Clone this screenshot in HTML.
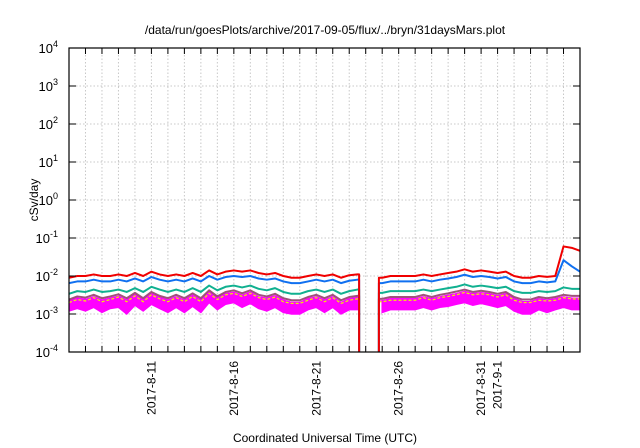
<!DOCTYPE html>
<html><head><meta charset="utf-8"><style>
body{margin:0;background:#fff}
svg{display:block;font-family:"Liberation Sans",sans-serif}
</style></head><body>
<svg id="chart" width="640" height="448">
<text x="325" y="34" font-size="12" text-anchor="middle">/data/run/goesPlots/archive/2017-09-05/flux/../bryn/31daysMars.plot</text>
<g id="grid"></g>
<g id="series" clip-path="url(#clip)"></g>
<rect x="69" y="48" width="511" height="304" fill="none" stroke="#000" stroke-width="1.2"/>
<g id="axes"></g>
<text transform="translate(38,200) rotate(-90)" font-size="12" text-anchor="middle">cSv/day</text>
<text x="325" y="442" font-size="12" text-anchor="middle">Coordinated Universal Time (UTC)</text>
<defs><clipPath id="clip"><rect x="69" y="48" width="511" height="304"/></clipPath></defs>
</svg>
<script>
// time in days since 2017-08-06 00:00, sampled every half day
const decades = [-4,-3,-2,-1,0,1,2,3,4];
const dateLabels = ["2017-8-11","2017-8-16","2017-8-21","2017-8-26","2017-8-31","2017-9-1"];
const dateLabelDays = [5,10,15,20,25,26];
const gapStart = 17.6, gapEnd = 18.8;
const red = [0.9,1.0,1.0,1.1,1.0,1.0,1.1,1.0,1.2,1.0,1.3,1.1,1.0,1.1,1.0,1.2,1.0,1.4,1.1,1.3,1.4,1.3,1.4,1.2,1.1,1.2,1.0,0.9,0.9,1.0,1.1,1.0,1.1,0.9,1.05,1.1,null,null,0.9,1.0,1.0,1.0,1.0,1.1,1.0,1.1,1.2,1.3,1.5,1.3,1.4,1.3,1.2,1.3,1.0,0.9,0.9,1.0,0.95,1.0,6.0,5.5,4.6]; // x1e-2
const blue = [0.65,0.72,0.72,0.8,0.72,0.72,0.8,0.72,0.86,0.72,0.94,0.8,0.72,0.8,0.72,0.86,0.72,1.0,0.8,0.94,1.0,0.94,1.0,0.86,0.8,0.86,0.72,0.65,0.65,0.72,0.8,0.72,0.8,0.65,0.75,0.8,null,null,0.65,0.72,0.72,0.72,0.72,0.8,0.72,0.8,0.86,0.94,1.08,0.94,1.0,0.94,0.86,0.94,0.72,0.65,0.65,0.72,0.68,0.72,2.6,1.8,1.3]; // x1e-2
const teal = [3.4,4.0,3.8,4.4,3.8,4.0,4.4,3.8,4.8,3.8,5.2,4.4,3.8,4.4,3.8,4.8,3.8,5.6,4.2,5.2,5.6,5.0,5.6,4.6,4.2,4.8,3.8,3.4,3.4,4.0,4.4,3.8,4.4,3.4,4.0,4.4,null,null,3.6,4.0,4.0,4.0,4.0,4.4,4.0,4.4,4.8,5.2,6.0,5.2,5.6,5.2,4.8,5.2,4.0,3.6,3.6,4.0,3.8,4.0,5.0,4.6,4.6]; // x1e-3
const brown = [2.4,2.9,2.7,3.2,2.6,2.9,3.3,2.6,3.6,2.6,3.8,3.0,2.6,3.2,2.6,3.5,2.6,4.2,2.9,3.8,4.2,3.5,4.2,3.2,2.9,3.4,2.6,2.3,2.3,2.8,3.2,2.6,3.2,2.3,2.8,3.0,null,null,2.5,2.8,2.8,2.8,2.8,3.2,2.8,3.2,3.5,3.9,4.4,3.8,4.1,3.8,3.4,3.8,2.8,2.4,2.4,2.8,2.6,2.8,3.2,3.0,3.0]; // x1e-3
const yellow = [2.0,2.4,2.2,2.7,2.1,2.4,2.8,2.1,3.0,2.1,3.2,2.5,2.1,2.7,2.1,2.9,2.1,3.5,2.4,3.2,3.5,2.9,3.5,2.7,2.4,2.8,2.1,1.9,1.9,2.3,2.7,2.1,2.7,1.9,2.3,2.5,null,null,2.1,2.3,2.3,2.3,2.3,2.7,2.3,2.7,2.9,3.2,3.7,3.2,3.4,3.2,2.8,3.2,2.3,2.0,2.0,2.3,2.2,2.3,2.7,2.5,2.5]; // x1e-3
const magenta = [2.2,2.6,2.4,2.8,2.3,2.6,2.9,2.3,3.2,2.3,3.4,2.7,2.3,2.8,2.3,3.1,2.3,3.7,2.6,3.4,3.7,3.1,3.7,2.8,2.6,3.0,2.3,2.0,2.0,2.5,2.8,2.3,2.8,2.0,2.5,2.7,null,null,2.2,2.5,2.5,2.5,2.5,2.8,2.5,2.8,3.1,3.4,3.9,3.4,3.6,3.4,3.0,3.4,2.5,2.1,2.1,2.5,2.3,2.5,2.8,2.6,2.6]; // x1e-3
const magentaLow = [1.2,1.4,1.2,1.5,1.1,1.4,1.5,1.0,1.7,1.2,1.8,1.4,1.1,1.5,1.1,1.6,1.1,2.0,1.3,1.8,2.0,1.5,1.9,1.4,1.2,1.5,1.1,1.0,1.0,1.3,1.5,1.1,1.5,1.0,1.3,1.3,null,null,1.1,1.3,1.3,1.3,1.3,1.5,1.3,1.5,1.6,1.8,2.0,1.7,1.9,1.7,1.5,1.7,1.2,1.0,1.0,1.3,1.1,1.3,1.5,1.3,1.3]; // x1e-3

const X0=69,X1=580,Y0=48,Y1=352,NS="http://www.w3.org/2000/svg";
const xs = d => X0 + d*(X1-X0)/31;
const ys = v => Y1 - (Math.log10(v)+4)*(Y1-Y0)/8;
function mk(tag, attrs, parent){const e=document.createElementNS(NS,tag);for(const k in attrs)e.setAttribute(k,attrs[k]);parent.appendChild(e);return e;}
const grid=document.getElementById('grid'), axes=document.getElementById('axes'), ser=document.getElementById('series');
for(let d=1; d<31; d++){
  const l=mk('line',{x1:xs(d),x2:xs(d),y1:Y0,y2:Y1,stroke:'#c8c8c8','stroke-dasharray':'1.5,2'},grid);
  
  
  const t1=mk('line',{x1:xs(d),x2:xs(d),y1:Y0,y2:Y0+6,stroke:'#000'},axes);
  
  
  const t2=mk('line',{x1:xs(d),x2:xs(d),y1:Y1,y2:Y1-6,stroke:'#000'},axes);
  
  
}
decades.forEach(p=>{
  const y=ys(Math.pow(10,p));
  if(p>-4&&p<4){const g=mk('line',{x1:X0,x2:X1,y1:y,y2:y,stroke:'#c8c8c8','stroke-dasharray':'1.5,2'},grid);
  
  }
  const a=mk('line',{x1:X0,x2:X0+7,y1:y,y2:y,stroke:'#000'},axes);
  
  
  const b=mk('line',{x1:X1,x2:X1-7,y1:y,y2:y,stroke:'#000'},axes);
  
  
  const t=mk('text',{x:58,y:y+5,'font-size':13,'text-anchor':'end'},axes);
  
  
  t.textContent='10';
  const s=mk('tspan',{dy:-6,'font-size':9},t); s.textContent=String(p);
});
dateLabels.forEach((s,i)=>{
  const x=xs(dateLabelDays[i])+4;
  const t=mk('text',{transform:`translate(${x},361) rotate(-90)`,'font-size':12,'text-anchor':'end'},axes);
  
  
  t.textContent=s;
});
function pathFor(arr,scale){
  let segs=[],cur=[];
  arr.forEach((v,i)=>{ if(v==null){ if(cur.length)segs.push(cur); cur=[]; } else cur.push([xs(i*0.5),ys(v*scale)]); });
  if(cur.length)segs.push(cur);
  let d='';
  segs.forEach((s,k)=>{
    if(k>0){ d+=`M${xs(gapEnd)},${Y1+5}L${xs(gapEnd)},${s[0][1]}`; }
    else d+=`M${s[0][0]},${s[0][1]}`;
    s.forEach((p,j)=>{ if(j>0||k>0) d+=`L${p[0]},${p[1]}`; });
    if(k<segs.length-1){ d+=`L${xs(gapStart)},${s[s.length-1][1]}L${xs(gapStart)},${Y1+5}`; }
  });
  return d;
}
(function(){
  let d='';
  const idx=[...magenta.keys()];
  const a=idx.filter(i=>i<36), b=idx.filter(i=>i>=38);
  [a,b].forEach(g=>{
    d+='M'+g.map(i=>`${xs(i*0.5)},${ys(magenta[i]*1e-3)}`).join('L');
    d+='L'+g.slice().reverse().map(i=>`${xs(i*0.5)},${ys(magentaLow[i]*1e-3)}`).join('L')+'Z';
  });
  const band=mk('path',{d:d,fill:'#ff00ff',stroke:'#ff00ff','stroke-width':1.5},ser);
  
  
})();
[[magenta,1e-3,'#ff00ff','magenta-series',1.5,null],[yellow,1e-3,'#f0f000','yellow-series',1.2,'3,2'],[brown,1e-3,'#a0507a','brown-series',2,null],[teal,1e-3,'#10b090','teal-series',2,null],[blue,1e-2,'#1070f0','blue-series',2,null],[red,1e-2,'#f00000','red-series',2,null]].forEach(([arr,sc,c,n,w,dash])=>{
  const p=mk('path',{d:pathFor(arr,sc),fill:'none',stroke:c,'stroke-width':w,'stroke-linejoin':'round'},ser);
  if(dash) p.setAttribute('stroke-dasharray',dash);
  
  
});
</script>
</body></html>
